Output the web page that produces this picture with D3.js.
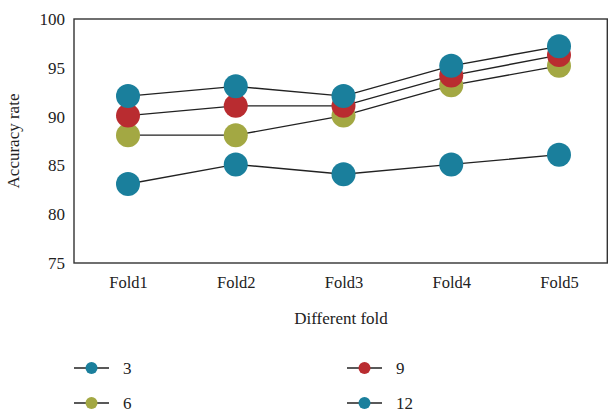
<!DOCTYPE html>
<html><head><meta charset="utf-8">
<script src="https://cdn.jsdelivr.net/npm/d3@7"></script>
<style>body{margin:0;background:#fff}svg{display:block;font-family:"Liberation Serif","DejaVu Serif",serif;} svg text{font-family:"Liberation Serif","DejaVu Serif",serif !important;}</style>
</head><body><svg id="c" width="609" height="414"></svg>
<script>
const folds = ["Fold1","Fold2","Fold3","Fold4","Fold5"];
const seriesNames = ["3","6","9","12"];
const s3  = [83.1, 85.1, 84.1, 85.1, 86.1];
const s6  = [88.1, 88.1, 90.1, 93.2, 95.2];
const s9  = [90.1, 91.1, 91.1, 94.2, 96.3];
const s12 = [92.1, 93.1, 92.1, 95.2, 97.2];
const yTicks = [75, 80, 85, 90, 95, 100];
const colors = ["#1a7f9c", "#a3a843", "#b92c30", "#1a7f9c"];
const allSeries = [s3, s6, s9, s12];

const svg = d3.select("#c");
const box = {l:74, r:607.3, t:19, b:263};
const x = d3.scalePoint().domain(folds).range([128, 559]);
const y = d3.scaleLinear().domain([75, 100]).range([box.b, box.t]);

// frame
svg.append("rect").attr("x", box.l).attr("y", box.t).attr("width", box.r-box.l).attr("height", box.b-box.t)
  .attr("fill","none").attr("stroke","#333").attr("stroke-width",1.4);

// y axis
const ya = svg.append("g").attr("transform",`translate(${box.l},0)`)
  .call(d3.axisLeft(y).tickValues(yTicks).tickSize(0).tickPadding(9));
ya.attr("font-family", null);
ya.select(".domain").remove();
ya.selectAll("text").attr("font-size",17).attr("fill","#222");

// x axis
const xa = svg.append("g").attr("transform",`translate(0,${box.b})`)
  .call(d3.axisBottom(x).tickSize(0).tickPadding(13));
xa.attr("font-family", null);
xa.select(".domain").remove();
xa.selectAll("text").attr("font-size",16.5).attr("fill","#222");

svg.append("text").attr("x", 341).attr("y", 324).attr("text-anchor","middle")
  .attr("font-size",17).attr("fill","#222").text("Different fold");
svg.append("text").attr("transform","translate(19,141) rotate(-90)").attr("text-anchor","middle")
  .attr("font-size",17).attr("fill","#222").text("Accuracy rate");

const line = d3.line().x((d,i)=>x(folds[i])).y(d=>y(d));
allSeries.forEach(s=>{
  svg.append("path").attr("d", line(s)).attr("fill","none").attr("stroke","#222").attr("stroke-width",1.4);
});
allSeries.forEach((s,k)=>{
  svg.append("g").selectAll("circle").data(s).join("circle")
    .attr("cx",(d,i)=>x(folds[i])).attr("cy",d=>y(d)).attr("r",12).attr("fill",colors[k]);
});

// legend
const legPos = [[74,368],[74,403],[347,368],[347,403]];
seriesNames.forEach((n,k)=>{
  const [lx,ly] = legPos[k];
  const g = svg.append("g").attr("transform",`translate(${lx},${ly})`);
  g.append("line").attr("x1",0).attr("x2",35).attr("y1",0).attr("y2",0).attr("stroke","#222").attr("stroke-width",1.4);
  g.append("circle").attr("cx",17.5).attr("cy",0).attr("r",6).attr("fill",colors[k]);
  g.append("text").attr("x",49).attr("y",0).attr("dy","0.35em").attr("font-size",17).attr("fill","#222").text(n);
});
</script></body></html>
